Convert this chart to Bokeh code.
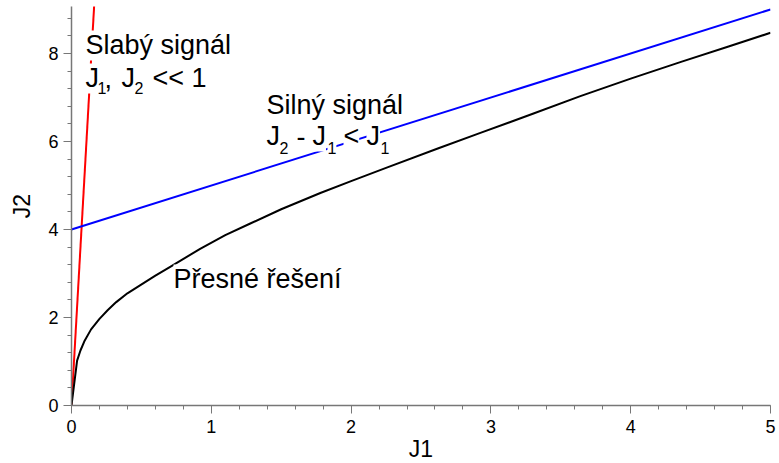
from bokeh.plotting import figure
from bokeh.models import Range1d, SingleIntervalTicker, Label
from bokeh.embed import file_html
from bokeh.resources import INLINE

# ---- data ----
j1_weak = [0.0, 0.165]
j2_weak = [0.0, 9.25]

j1_strong = [0.0, 5.0]
j2_strong = [4.0, 9.0]

j1_exact = [0.0, 0.04, 0.064, 0.095, 0.14, 0.2, 0.26, 0.32, 0.40, 0.49, 0.60, 0.70, 0.92,
            1.10, 1.275, 1.50, 1.78, 2.0, 2.25, 2.62, 2.92, 3.30, 3.64, 4.0, 4.36, 4.70, 5.0]
j2_exact = [0.0, 1.02, 1.25, 1.48, 1.73, 1.97, 2.17, 2.35, 2.55, 2.73, 2.95, 3.14, 3.56,
            3.87, 4.13, 4.46, 4.83, 5.10, 5.40, 5.84, 6.19, 6.63, 7.03, 7.43, 7.81, 8.16, 8.47]

FONT = "Liberation Sans"

p = figure(frame_width=699, frame_height=399, output_backend="svg", toolbar_location=None,
           x_range=Range1d(0, 5), y_range=Range1d(0, 9.068),
           min_border_left=71, min_border_right=9, min_border_top=6, min_border_bottom=10)
p.outline_line_color = None
p.xgrid.visible = False
p.ygrid.visible = False
p.background_fill_color = "white"

p.line(j1_weak, j2_weak, line_color="#ff0000", line_width=2)
p.line(j1_strong, j2_strong, line_color="#0000ff", line_width=2)
p.line(j1_exact, j2_exact, line_color="black", line_width=2, line_join="round")

p.xaxis.ticker = SingleIntervalTicker(interval=1, num_minor_ticks=5)
p.yaxis.ticker = SingleIntervalTicker(interval=2, num_minor_ticks=5)
for ax in (p.xaxis[0], p.yaxis[0]):
    ax.axis_line_color = "#777777"
    ax.axis_line_width = 1.5
    ax.major_tick_line_color = "#777777"
    ax.minor_tick_line_color = "#777777"
    ax.major_tick_out = 8
    ax.major_tick_in = 0
    ax.minor_tick_out = 4
    ax.minor_tick_in = 0
    ax.major_label_text_font = FONT
    ax.major_label_text_font_size = "18px"
    ax.major_label_text_color = "black"
    ax.axis_label_text_font = FONT
    ax.axis_label_text_font_size = "23px"
    ax.axis_label_text_font_style = "normal"
    ax.axis_label_text_color = "black"

p.xaxis.major_label_standoff = 6
p.yaxis.major_label_standoff = 5
p.xaxis.axis_label = "J1"
p.yaxis.axis_label = "J2"
p.xaxis.axis_label_standoff = 0
p.yaxis.axis_label_standoff = 10


def px2x(px):
    return (px - 71) / 139.8


def py2y(py):
    return (405 - py) / 44.0


# (text, left pixel, baseline pixel, font size)
pieces = [
    ("Slabý signál", 85, 45, 27),
    ("J", 85, 78, 27), ("1", 97, 88, 16), (",", 104, 78, 27), ("J", 121, 78, 27),
    ("2", 134, 88, 16), ("<< 1", 152, 78, 27),
    ("Silný signál", 266, 105, 27),
    ("J", 266, 136, 27), ("2", 279, 148, 16), ("-", 296, 136, 27), ("J", 312, 136, 27),
    ("1", 327, 148, 16), ("<", 343, 136, 27), ("J", 366, 136, 27), ("1", 380, 148, 16),
    ("Přesné řešení", 173, 279, 27),
]
for t, xx, yy, fs in pieces:
    p.add_layout(Label(x=px2x(xx), y=py2y(yy), text=t, text_font=FONT,
                       text_font_size=f"{fs}px", text_color="black",
                       text_baseline="alphabetic", text_align="left",
                       background_fill_color="white", padding=0))

open("out.html", "w").write(file_html(p, INLINE))
